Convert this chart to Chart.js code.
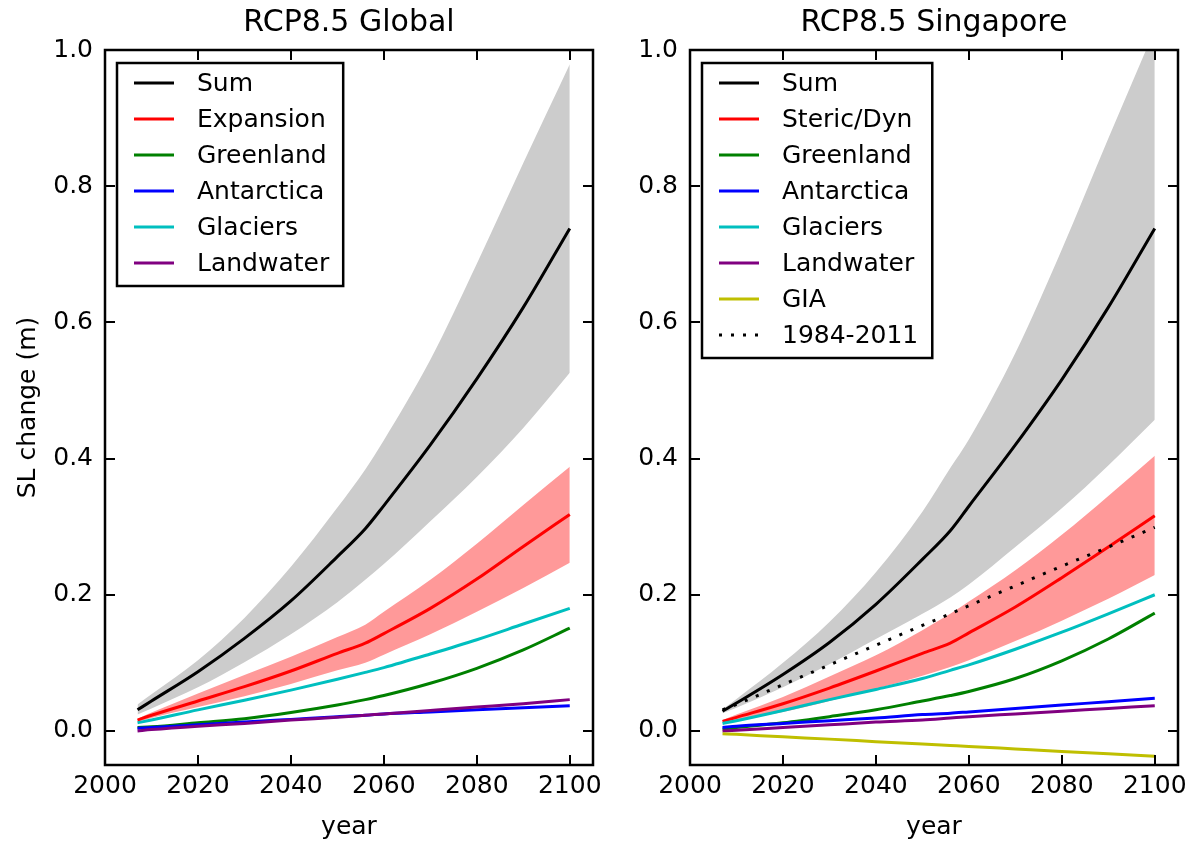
<!DOCTYPE html>
<html>
<head>
<meta charset="utf-8">
<script src="https://cdn.jsdelivr.net/npm/chart.js@4.4.1/dist/chart.umd.min.js"></script>
<style>
  html, body { margin: 0; padding: 0; background: #fff; }
  #wrap { position: relative; width: 1188px; height: 841px; }
  canvas { position: absolute; top: 0; }
</style>
</head>
<body>
<div id="wrap">
  <canvas id="global" width="600" height="841" style="left:0"></canvas>
  <canvas id="singapore" width="588" height="841" style="left:600px"></canvas>
</div>
<script>
// shared axes
const years = [2007, 2010, 2020, 2030, 2040, 2050, 2056, 2060, 2070, 2080, 2090, 2100];
const xTicks = [2000, 2020, 2040, 2060, 2080, 2100];
const yTicks = [0.0, 0.2, 0.4, 0.6, 0.8, 1.0];

// RCP8.5 Global
const gSum       = [0.031, 0.044, 0.087, 0.136, 0.191, 0.256, 0.297, 0.331, 0.420, 0.517, 0.622, 0.738];
const gSumHigh   = [0.039, 0.054, 0.104, 0.166, 0.241, 0.328, 0.384, 0.427, 0.545, 0.686, 0.834, 0.979];
const gSumLow    = [0.024, 0.033, 0.064, 0.101, 0.142, 0.189, 0.222, 0.245, 0.308, 0.373, 0.445, 0.526];
const gExp       = [0.016, 0.023, 0.044, 0.065, 0.088, 0.114, 0.129, 0.143, 0.180, 0.223, 0.271, 0.318];
const gExpHigh   = [0.018, 0.027, 0.055, 0.082, 0.109, 0.138, 0.156, 0.175, 0.222, 0.275, 0.332, 0.388];
const gExpLow    = [0.013, 0.019, 0.035, 0.051, 0.069, 0.089, 0.100, 0.112, 0.142, 0.175, 0.210, 0.247];
const gGreenland = [0.005, 0.006, 0.012, 0.018, 0.027, 0.038, 0.046, 0.052, 0.070, 0.092, 0.119, 0.151];
const gAntarctica= [0.004, 0.005, 0.009, 0.013, 0.017, 0.021, 0.023, 0.025, 0.028, 0.031, 0.034, 0.037];
const gGlaciers  = [0.012, 0.016, 0.031, 0.045, 0.060, 0.076, 0.086, 0.093, 0.113, 0.134, 0.157, 0.180];
const gLandwater = [0.000, 0.002, 0.007, 0.011, 0.016, 0.020, 0.023, 0.025, 0.030, 0.035, 0.040, 0.046];

// RCP8.5 Singapore
const sSum        = [0.029, 0.041, 0.083, 0.130, 0.186, 0.252, 0.294, 0.330, 0.420, 0.516, 0.622, 0.738];
const sSumHigh    = [0.032, 0.047, 0.100, 0.160, 0.233, 0.322, 0.386, 0.428, 0.555, 0.707, 0.870, 1.030];
const sSumLow     = [0.026, 0.034, 0.064, 0.098, 0.135, 0.172, 0.196, 0.215, 0.270, 0.327, 0.390, 0.457];
const sSteric     = [0.014, 0.020, 0.040, 0.063, 0.088, 0.114, 0.129, 0.144, 0.182, 0.225, 0.270, 0.316];
const sStericHigh = [0.016, 0.024, 0.050, 0.080, 0.111, 0.148, 0.172, 0.190, 0.236, 0.288, 0.345, 0.404];
const sStericLow  = [0.012, 0.016, 0.028, 0.044, 0.062, 0.081, 0.094, 0.104, 0.132, 0.162, 0.194, 0.229];
const sGreenland  = [0.003, 0.005, 0.012, 0.021, 0.031, 0.044, 0.052, 0.058, 0.077, 0.103, 0.135, 0.173];
const sAntarctica = [0.005, 0.007, 0.011, 0.015, 0.019, 0.024, 0.026, 0.028, 0.033, 0.038, 0.043, 0.048];
const sGlaciers   = [0.011, 0.015, 0.030, 0.046, 0.061, 0.077, 0.089, 0.097, 0.120, 0.145, 0.172, 0.200];
const sLandwater  = [0.000, 0.001, 0.005, 0.009, 0.013, 0.016, 0.019, 0.021, 0.025, 0.029, 0.033, 0.037];
const sGia        = [-0.004, -0.005, -0.0086, -0.012, -0.0157, -0.0193, -0.0214, -0.0228, -0.0264, -0.030, -0.0335, -0.037];
const sTrend      = [0.031, 0.039, 0.068, 0.097, 0.126, 0.155, 0.172, 0.184, 0.213, 0.242, 0.270, 0.299];

const FONT = "'DejaVu Sans', sans-serif";
const pts = arr => years.map((x, i) => ({ x: x, y: arr[i] }));

//a plain line series
function line(label, arr, color, order, dash) {
  return {
    label: label, data: pts(arr), borderColor: color, backgroundColor: color,
    borderWidth: 3, borderDash: dash || [], pointRadius: 0,
    cubicInterpolationMode: 'monotone', fill: false, order: order, inLegend: true
  };
}
//upper + lower edge of a shaded range
function band(label, hi, lo, color) {
  return [
    { label: label + ' high', data: pts(hi), borderWidth: 0, pointRadius: 0, backgroundColor: color,
      cubicInterpolationMode: 'monotone', fill: '+1', order: 50 },
    { label: label + ' low', data: pts(lo), borderWidth: 0, pointRadius: 0, backgroundColor: color,
      cubicInterpolationMode: 'monotone', fill: false, order: 51 }
  ];
}

//frame, inward ticks, titles and legend drawn matplotlib style
const mplStyle = {
  id: 'mplStyle',
  afterDatasetsDraw(chart, args, opts) {
    const { ctx, chartArea: a, scales: { x, y } } = chart;
    ctx.save();
    ctx.strokeStyle = '#000';
    ctx.lineWidth = 2;
    ctx.beginPath();
    x.ticks.forEach(t => {
      const px = Math.round(x.getPixelForValue(t.value));
      ctx.moveTo(px, a.bottom); ctx.lineTo(px, a.bottom - 10);
      ctx.moveTo(px, a.top); ctx.lineTo(px, a.top + 10);
    });
    y.ticks.forEach(t => {
      const py = Math.round(y.getPixelForValue(t.value));
      ctx.moveTo(a.left, py); ctx.lineTo(a.left + 10, py);
      ctx.moveTo(a.right, py); ctx.lineTo(a.right - 10, py);
    });
    ctx.stroke();
    ctx.lineWidth = 2.5;
    ctx.strokeRect(a.left, a.top, a.right - a.left, a.bottom - a.top);

    ctx.fillStyle = '#000';
    ctx.textAlign = 'center';
    ctx.textBaseline = 'middle';
    ctx.font = '30px ' + FONT;
    ctx.fillText(opts.title, (a.left + a.right) / 2, 23);
    ctx.font = '25px ' + FONT;
    ctx.fillText('year', (a.left + a.right) / 2, 827);
    if (opts.yTitle) {
      ctx.save();
      ctx.translate(28, (a.top + a.bottom) / 2);
      ctx.rotate(-Math.PI / 2);
      ctx.fillText(opts.yTitle, 0, 0);
      ctx.restore();
    }

    //legend box
    const items = chart.data.datasets.filter(d => d.inLegend);
    ctx.font = '25px ' + FONT;
    const tw = Math.max(...items.map(d => ctx.measureText(d.label).width));
    const bx = a.left + 12, by = a.top + 13;
    const bw = 80 + tw + 14, bh = items.length * 36 + 7;
    ctx.fillStyle = '#fff';
    ctx.fillRect(bx, by, bw, bh);
    ctx.lineWidth = 2.5;
    ctx.strokeStyle = '#000';
    ctx.strokeRect(bx, by, bw, bh);
    ctx.textAlign = 'left';
    items.forEach((d, i) => {
      const ry = by + 20 + i * 36;
      ctx.strokeStyle = d.borderColor;
      ctx.lineWidth = d.borderWidth;
      ctx.setLineDash(d.borderDash);
      ctx.beginPath();
      ctx.moveTo(bx + 17, ry); ctx.lineTo(bx + 57, ry);
      ctx.stroke();
      ctx.setLineDash([]);
      ctx.fillStyle = '#000';
      ctx.fillText(d.label, bx + 80, ry + 1);
    });
    ctx.restore();
  }
};

function makeChart(id, datasets, title, yTitle, axisWidth, padRight) {
  return new Chart(document.getElementById(id), {
    type: 'line',
    data: { datasets: datasets },
    plugins: [mplStyle],
    options: {
      responsive: false,
      animation: false,
      layout: { padding: { top: 50, right: padRight, left: 0, bottom: 0 } },
      plugins: {
        legend: { display: false },
        tooltip: { enabled: false },
        filler: { drawTime: 'beforeDatasetsDraw' },
        mplStyle: { title: title, yTitle: yTitle }
      },
      scales: {
        x: {
          type: 'linear', min: 2000, max: 2105,
          afterBuildTicks: s => { s.ticks = xTicks.map(v => ({ value: v })); },
          afterFit: s => { s.height = 76; s.paddingLeft = 0; s.paddingRight = 0; },
          grid: { display: false, drawTicks: false },
          border: { display: false },
          ticks: { color: '#000', font: { family: FONT, size: 25 }, padding: 6, maxRotation: 0,
                   callback: v => String(v) }
        },
        y: {
          min: -0.05, max: 1.0,
          afterBuildTicks: s => { s.ticks = yTicks.map(v => ({ value: v })); },
          afterFit: s => { s.width = axisWidth; s.paddingTop = 0; s.paddingBottom = 0; },
          grid: { display: false, drawTicks: false },
          border: { display: false },
          ticks: { color: '#000', font: { family: FONT, size: 25 }, padding: 12,
                   callback: v => v.toFixed(1) }
        }
      }
    }
  });
}

makeChart('global', [
  line('Sum', gSum, '#000000', 10),
  line('Expansion', gExp, '#ff0000', 9),
  line('Greenland', gGreenland, '#008000', 8),
  line('Antarctica', gAntarctica, '#0000ff', 7),
  line('Glaciers', gGlaciers, '#00bfbf', 6),
  line('Landwater', gLandwater, '#800080', 5),
  ...band('Sum', gSumHigh, gSumLow, '#cccccc'),
  ...band('Expansion', gExpHigh, gExpLow, '#ff9999')
], 'RCP8.5 Global', 'SL change (m)', 105, 7);

makeChart('singapore', [
  line('Sum', sSum, '#000000', 10),
  line('Steric/Dyn', sSteric, '#ff0000', 9),
  line('Greenland', sGreenland, '#008000', 8),
  line('Antarctica', sAntarctica, '#0000ff', 7),
  line('Glaciers', sGlaciers, '#00bfbf', 6),
  line('Landwater', sLandwater, '#800080', 5),
  line('GIA', sGia, '#bfbf00', 4),
  line('1984-2011', sTrend, '#000000', 3, [3, 9]),
  ...band('Sum', sSumHigh, sSumLow, '#cccccc'),
  ...band('Steric/Dyn', sStericHigh, sStericLow, '#ff9999')
], 'RCP8.5 Singapore', null, 90, 10);
</script>
</body>
</html>
